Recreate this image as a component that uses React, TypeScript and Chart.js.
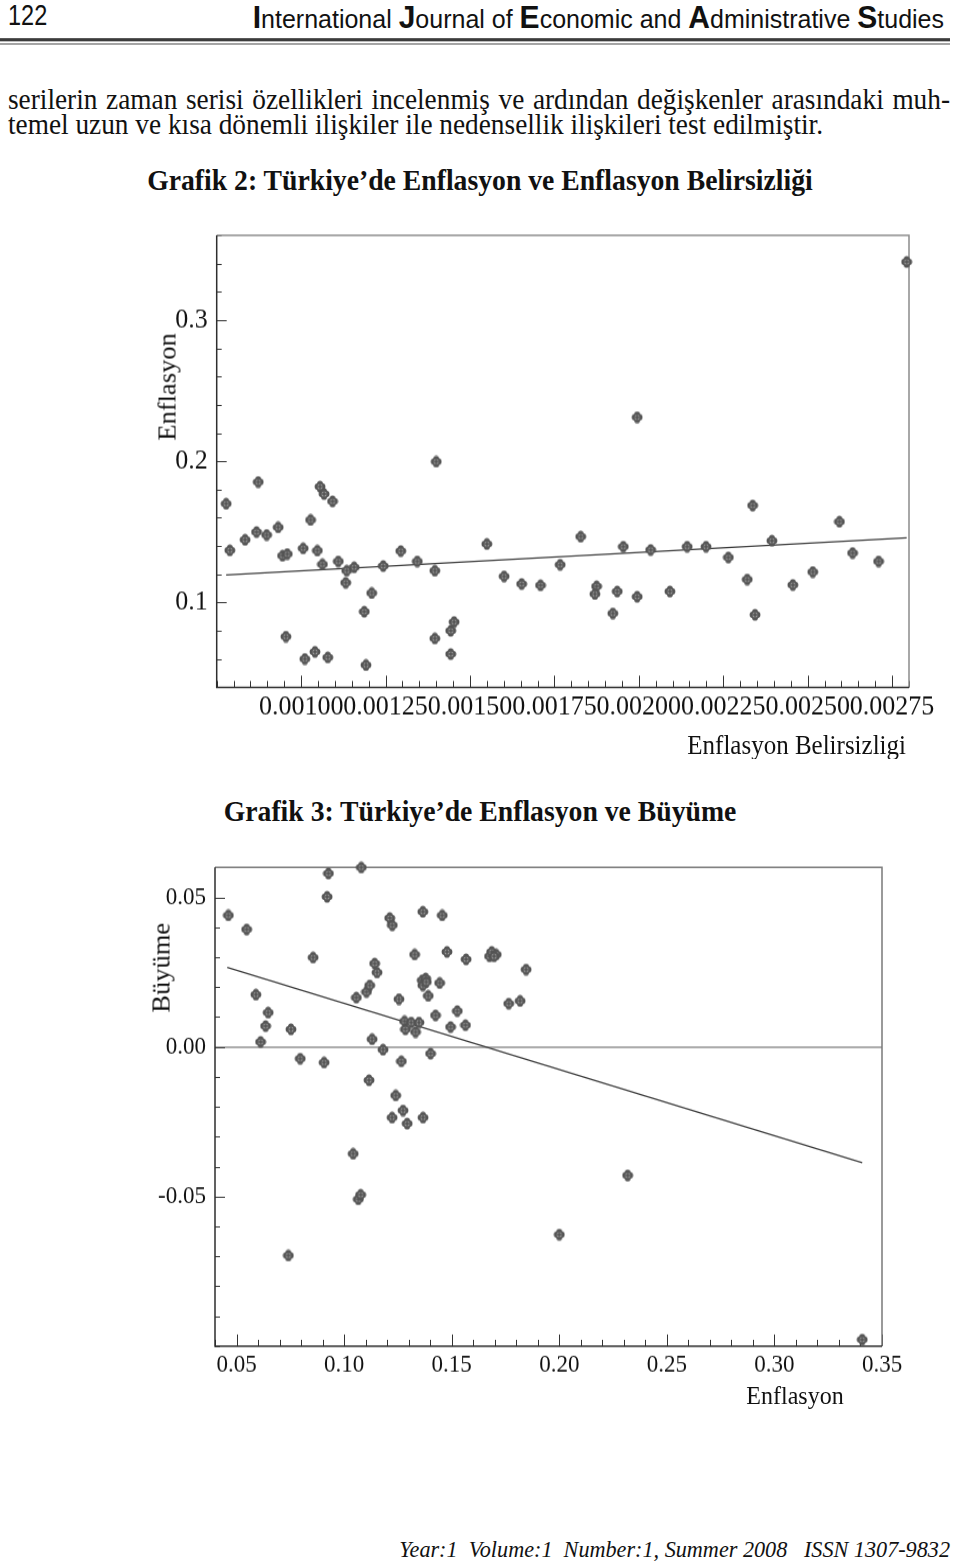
import React, { useEffect, useRef } from "react";
import { Chart, registerables } from "chart.js";

Chart.register(...registerables);

// vertical stretch of the page image
const K = 1.06;

// ---------- Grafik 2: Enflasyon Belirsizliği (x) vs Enflasyon (y) ----------
const uncertainty = [
  0.000778, 0.000789, 0.000834, 0.000873, 0.000868, 0.000898, 0.000932, 0.000945,
  0.000959, 0.000955, 0.001006, 0.001011, 0.001028, 0.001041, 0.001056, 0.001068,
  0.001093, 0.001048, 0.001063, 0.001079, 0.00111, 0.001135, 0.001157, 0.001132,
  0.001187, 0.001209, 0.001192, 0.001243, 0.001295, 0.001344, 0.0014, 0.001396,
  0.001396, 0.001443, 0.001453, 0.001443, 0.00155, 0.001601, 0.001653, 0.001709,
  0.001767, 0.001828, 0.001875, 0.00187, 0.001954, 0.001936, 0.001923, 0.001995,
  0.001995, 0.002035, 0.002092, 0.002143, 0.002199, 0.002265, 0.002321, 0.002337,
  0.002344, 0.002394, 0.002456, 0.002515, 0.002594, 0.002633, 0.00271, 0.002793,
];
const inflationA = [
  0.170, 0.137, 0.1445, 0.1854, 0.150, 0.1479, 0.1533, 0.1332,
  0.1344, 0.0759, 0.1384, 0.0601, 0.1585, 0.0652, 0.1821, 0.1769,
  0.1717, 0.1368, 0.1271, 0.0612, 0.1292, 0.1226, 0.125, 0.1141,
  0.0936, 0.1068, 0.0558, 0.1259, 0.1365, 0.1292, 0.1998, 0.1226,
  0.0746, 0.0801, 0.0863, 0.0636, 0.1415, 0.1186, 0.1132, 0.1122,
  0.1268, 0.1467, 0.1115, 0.1061, 0.1396, 0.1079, 0.0924, 0.1042,
  0.2312, 0.1373, 0.1079, 0.1396, 0.1396, 0.132, 0.1164, 0.1688,
  0.0914, 0.1438, 0.1125, 0.1217, 0.1573, 0.1351, 0.1292, 0.3412,
];
const fitAX = [0.000778, 0.002793];
const fitAY = [0.1195, 0.1458];
const xTicksA = [0.001, 0.00125, 0.0015, 0.00175, 0.002, 0.00225, 0.0025, 0.00275];
const yTicksA = [0.1, 0.2, 0.3];

// ---------- Grafik 3: Enflasyon (x) vs Büyüme (y) ----------
const inflationB = [
  0.0462, 0.0547, 0.059, 0.0647, 0.0635, 0.0612, 0.0753, 0.0741, 0.0796, 0.0856,
  0.0907, 0.0921, 0.0927, 0.1042, 0.1057, 0.1066, 0.1077, 0.108, 0.1104, 0.1116,
  0.1119, 0.113, 0.1142, 0.1153, 0.1181, 0.1212, 0.1224, 0.1223, 0.124, 0.1255,
  0.1266, 0.1274, 0.1281, 0.1285, 0.1293, 0.1312, 0.1328, 0.1332, 0.1348, 0.1363,
  0.1379, 0.1366, 0.1382, 0.1366, 0.1367, 0.1391, 0.1402, 0.1425, 0.1444, 0.1456,
  0.1478, 0.1495, 0.1526, 0.1564, 0.1567, 0.1676, 0.1686, 0.1707, 0.1697, 0.1765,
  0.1818, 0.1846, 0.2, 0.2318, 0.3408,
];
const growth = [
  0.044, 0.0393, 0.0175, 0.0115, 0.007, 0.0017, 0.0059, -0.0697, -0.0039, 0.0299,
  -0.0052, 0.0502, 0.058, -0.0357, 0.0165, -0.0509, -0.0494, 0.06, 0.0184, -0.0111,
  0.0206, 0.0026, 0.0279, 0.0249, -0.0009, 0.0431, 0.0407, -0.0236, -0.0162, 0.016,
  -0.0048, -0.0212, 0.0086, 0.0059, -0.0256, 0.0082, 0.0309, 0.005, 0.0082, 0.0223,
  0.0229, 0.0206, 0.0217, 0.0452, -0.0236, 0.0171, -0.0022, 0.0106, 0.0214, 0.044,
  0.0318, 0.0067, 0.012, 0.0073, 0.0293, 0.0303, 0.0318, 0.0309, 0.0303, 0.0145,
  0.0154, 0.0259, -0.0627, -0.0429, -0.0978,
];
const fitBX = [0.0457, 0.3408];
const fitBY = [0.0266, -0.0387];
const xTicksB = [0.05, 0.1, 0.15, 0.2, 0.25, 0.3, 0.35];
const yTicksB = [-0.05, 0, 0.05];

const SERIF = "'Liberation Serif', 'Times New Roman', serif";
const SANS = "'Liberation Sans', Arial, sans-serif";

type Panel = {
  xs: number[]; ys: number[]; fitX: number[]; fitY: number[];
  xTicks: number[]; yTicks: number[];
  xMin: number; xMax: number; yMin: number; yMax: number;
  xMinor: number; yMinor: number; xDigits: number; yDigits: number;
  pageTop: number; pageBottom: number; left: number; right: number;
  areaTop: number; areaBottom: number;
  font: number; xPad: number; yPad: number; frame: string; zero: boolean;
};

const panelA: Panel = {
  xs: uncertainty, ys: inflationA, fitX: fitAX, fitY: fitAY,
  xTicks: xTicksA, yTicks: yTicksA,
  xMin: 0.00075, xMax: 0.0028, yMin: 0.04, yMax: 0.36,
  xMinor: 0.00005, yMinor: 0.02, xDigits: 5, yDigits: 1,
  pageTop: 217, pageBottom: 735, left: 216.7, right: 909, areaTop: 235, areaBottom: 687,
  font: 26, xPad: 3, yPad: 9, frame: "#8c8c8c", zero: false,
};

const panelB: Panel = {
  xs: inflationB, ys: growth, fitX: fitBX, fitY: fitBY,
  xTicks: xTicksB, yTicks: yTicksB,
  xMin: 0.04, xMax: 0.35, yMin: -0.1, yMax: 0.06,
  xMinor: 0.01, yMinor: 0.01, xDigits: 2, yDigits: 2,
  pageTop: 850, pageBottom: 1390, left: 215, right: 882, areaTop: 867.3, areaBottom: 1346,
  font: 23, xPad: 4, yPad: 9, frame: "#7a7a7a", zero: true,
};

// quatrefoil-like marker with light centre and dark cross
function makeMarker() {
  const c = document.createElement("canvas");
  c.width = 12;
  c.height = 12;
  const g = c.getContext("2d")!;
  const cx = 6, cy = 6;
  g.fillStyle = "#555";
  const lobes = [[0, -2.7], [0, 2.7], [-2.5, 0], [2.5, 0]];
  for (const [dx, dy] of lobes) {
    g.beginPath();
    g.arc(cx + dx, cy + dy, 2.9, 0, Math.PI * 2);
    g.fill();
  }
  g.beginPath();
  g.arc(cx, cy, 4.3, 0, Math.PI * 2);
  g.fill();
  g.fillStyle = "#9c9c9c";
  g.beginPath();
  g.arc(cx, cy, 2.6, 0, Math.PI * 2);
  g.fill();
  g.fillStyle = "#4a4a4a";
  g.fillRect(cx - 0.6, cy - 2.6, 1.2, 5.2);
  g.fillRect(cx - 2.6, cy - 0.6, 5.2, 1.2);
  return c;
}

const frameTicks = {
  id: "frameTicks",
  beforeDatasetsDraw(chart: any, _args: any, opts: any) {
    const { ctx, chartArea: a, scales } = chart;
    const xs = scales.x, ys = scales.y;
    const isMajor = (list: number[], v: number, step: number) =>
      list.some((t) => Math.abs(t - v) < step / 10);
    ctx.save();
    ctx.lineWidth = 1;
    ctx.strokeStyle = "#333";
    const nx = Math.round((opts.xMax - opts.xMin) / opts.xMinor);
    for (let i = 0; i <= nx; i++) {
      const v = opts.xMin + i * opts.xMinor;
      const p = Math.round(xs.getPixelForValue(v)) + 0.5;
      const len = isMajor(opts.xTicks, v, opts.xMinor) ? 11 : 6;
      ctx.beginPath();
      ctx.moveTo(p, a.bottom);
      ctx.lineTo(p, a.bottom - len);
      ctx.stroke();
    }
    const ny = Math.round((opts.yMax - opts.yMin) / opts.yMinor);
    for (let i = 0; i <= ny; i++) {
      const v = opts.yMin + i * opts.yMinor;
      const p = Math.round(ys.getPixelForValue(v)) + 0.5;
      const len = isMajor(opts.yTicks, v, opts.yMinor) ? 10 : 5;
      ctx.beginPath();
      ctx.moveTo(a.left, p);
      ctx.lineTo(a.left + len, p);
      ctx.stroke();
    }
    ctx.lineWidth = 1.5;
    ctx.strokeStyle = opts.frame;
    ctx.beginPath();
    ctx.moveTo(a.left, a.top);
    ctx.lineTo(a.right, a.top);
    ctx.lineTo(a.right, a.bottom);
    ctx.stroke();
    ctx.strokeStyle = "#2e2e2e";
    ctx.beginPath();
    ctx.moveTo(a.left, a.top);
    ctx.lineTo(a.left, a.bottom);
    ctx.lineTo(a.right, a.bottom);
    ctx.stroke();
    ctx.restore();
  },
};

const noPad = (s: any) => {
  s.paddingTop = 0;
  s.paddingBottom = 0;
  s.paddingLeft = 0;
  s.paddingRight = 0;
};

function ScatterPanel({ p }: { p: Panel }) {
  const ref = useRef<HTMLCanvasElement>(null);
  const h = Math.round((p.pageBottom - p.pageTop) / K);
  const topW = p.pageTop / K;
  useEffect(() => {
    const padTop = (p.areaTop - p.pageTop) / K;
    const xAxisH = h - (p.areaBottom - p.pageTop) / K;
    const marker = makeMarker();
    const tickFont = { family: SERIF, size: p.font };
    const chart = new Chart(ref.current!, {
      type: "scatter",
      data: {
        datasets: [
          {
            data: p.xs.map((x, i) => ({ x, y: p.ys[i] })),
            pointStyle: marker as any,
            pointRadius: 5,
            pointHoverRadius: 5,
            clip: false as any,
            order: 1,
          },
          {
            data: p.fitX.map((x, i) => ({ x, y: p.fitY[i] })),
            showLine: true,
            borderColor: "#3a3a3a",
            borderWidth: 1.2,
            pointRadius: 0,
            order: 2,
          },
        ],
      },
      options: {
        animation: false,
        responsive: false,
        maintainAspectRatio: false,
        events: [],
        layout: { padding: { top: padTop, right: 960 - p.right, left: 0, bottom: 0 } },
        plugins: {
          legend: { display: false },
          tooltip: { enabled: false },
          frameTicks: {
            xMin: p.xMin, xMax: p.xMax, yMin: p.yMin, yMax: p.yMax,
            xMinor: p.xMinor, yMinor: p.yMinor, xTicks: p.xTicks, yTicks: p.yTicks,
            frame: p.frame,
          },
        } as any,
        scales: {
          x: {
            type: "linear",
            position: "bottom",
            min: p.xMin,
            max: p.xMax,
            bounds: "data",
            afterBuildTicks: (s: any) => {
              s.ticks = p.xTicks.map((v) => ({ value: v }));
            },
            afterFit: (s: any) => {
              s.height = xAxisH;
              noPad(s);
            },
            grid: { display: false, drawTicks: false },
            border: { display: false },
            ticks: {
              autoSkip: false,
              maxRotation: 0,
              minRotation: 0,
              padding: p.xPad,
              color: "#111",
              font: tickFont,
              callback: (v: any) => Number(v).toFixed(p.xDigits),
            },
          },
          y: {
            type: "linear",
            min: p.yMin,
            max: p.yMax,
            bounds: "data",
            afterBuildTicks: (s: any) => {
              s.ticks = p.yTicks.map((v) => ({ value: v }));
            },
            afterFit: (s: any) => {
              s.width = p.left;
              noPad(s);
            },
            grid: {
              display: p.zero,
              drawTicks: false,
              lineWidth: 2,
              color: (c: any) =>
                c.tick && Math.abs(c.tick.value) < 1e-9 ? "#ababab" : "rgba(0,0,0,0)",
            },
            border: { display: false },
            ticks: {
              autoSkip: false,
              padding: p.yPad,
              color: "#111",
              font: tickFont,
              callback: (v: any) => Number(v).toFixed(p.yDigits),
            },
          },
        },
      } as any,
      plugins: [frameTicks as any],
    });
    return () => chart.destroy();
  }, []);
  return (
    <canvas
      ref={ref}
      width={960}
      height={h}
      style={{ position: "absolute", left: 0, top: topW, display: "block" }}
    />
  );
}

// text placed by page baseline (line-height 1)
function Txt(props: {
  base: number; size: number; left?: number; width?: number; align?: any;
  bold?: boolean; italic?: boolean; family?: string; children: any; style?: any;
}) {
  const fam = props.family || SERIF;
  const asc = fam === SANS ? 0.8465 : 0.8375;
  return (
    <div
      style={{
        position: "absolute",
        left: props.left ?? 0,
        width: props.width ?? 960,
        top: props.base / K - asc * props.size,
        fontFamily: fam,
        fontSize: props.size,
        lineHeight: `${props.size}px`,
        fontWeight: props.bold ? "bold" : "normal",
        fontStyle: props.italic ? "italic" : "normal",
        textAlign: props.align ?? "left",
        whiteSpace: "pre",
        color: "#111",
        ...props.style,
      }}
    >
      {props.children}
    </div>
  );
}

function VTitle({ cx, cy, size, children }: { cx: number; cy: number; size: number; children: any }) {
  return (
    <div
      style={{
        position: "absolute",
        left: cx,
        top: cy / K,
        transform: "translate(-50%, -50%) rotate(-90deg)",
        fontFamily: SERIF,
        fontSize: size,
        lineHeight: `${size}px`,
        whiteSpace: "nowrap",
        color: "#111",
      }}
    >
      {children}
    </div>
  );
}

export default function App() {
  useEffect(() => {
    document.documentElement.style.overflow = "hidden";
  }, []);
  const cap = (t: string) => (
    <span style={{ fontWeight: "bold", fontSize: 30 }}>{t}</span>
  );
  return (
    <div
      style={{
        position: "absolute",
        left: 0,
        top: 0,
        width: 960,
        height: 1563 / K,
        transform: `scaleY(${K})`,
        transformOrigin: "0 0",
        background: "#fff",
        overflow: "hidden",
      }}
    >
      <Txt base={26} size={27} left={8} width={60} family={SANS} style={{ transform: "scaleX(0.87)", transformOrigin: "0 0" }}>122</Txt>
      <Txt base={26} size={25} left={0} width={944} align="right" family={SANS}>
        {cap("I")}nternational {cap("J")}ournal of {cap("E")}conomic and {cap("A")}dministrative {cap("S")}tudies
      </Txt>
      <div style={{ position: "absolute", left: 0, width: 950, top: 38.5 / K, height: 2.5 / K, background: "#3c3c3c" }} />
      <div style={{ position: "absolute", left: 0, width: 950, top: 43.5 / K, height: 1.2 / K, background: "#555" }} />

      <Txt base={110} size={27.3} left={8} width={942} align="justify" style={{ textAlignLast: "justify", whiteSpace: "normal" }}>
        serilerin zaman serisi özellikleri incelenmiş ve ardından değişkenler arasındaki muh-
      </Txt>
      <Txt base={135} size={27.3} left={8} width={950}>
        temel uzun ve kısa dönemli ilişkiler ile nedensellik ilişkileri test edilmiştir.
      </Txt>

      <Txt base={190} size={27.7} bold align="center">
        Grafik 2: Türkiye’de Enflasyon ve Enflasyon Belirsizliği
      </Txt>

      <ScatterPanel p={panelA} />
      <VTitle cx={167} cy={387} size={25}>Enflasyon</VTitle>
      <Txt base={754} size={25} left={0} width={906} align="right">Enflasyon Belirsizligi</Txt>

      <Txt base={822} size={27.7} bold align="center">
        Grafik 3: Türkiye’de Enflasyon ve Büyüme
      </Txt>

      <ScatterPanel p={panelB} />
      <VTitle cx={161} cy={968} size={25}>Büyüme</VTitle>
      <Txt base={1405} size={24} left={744} width={102} align="center">Enflasyon</Txt>

      <Txt base={1558} size={22.2} italic left={0} width={950} align="right">
        {"Year:1  Volume:1  Number:1, Summer 2008   ISSN 1307-9832"}
      </Txt>
    </div>
  );
}
